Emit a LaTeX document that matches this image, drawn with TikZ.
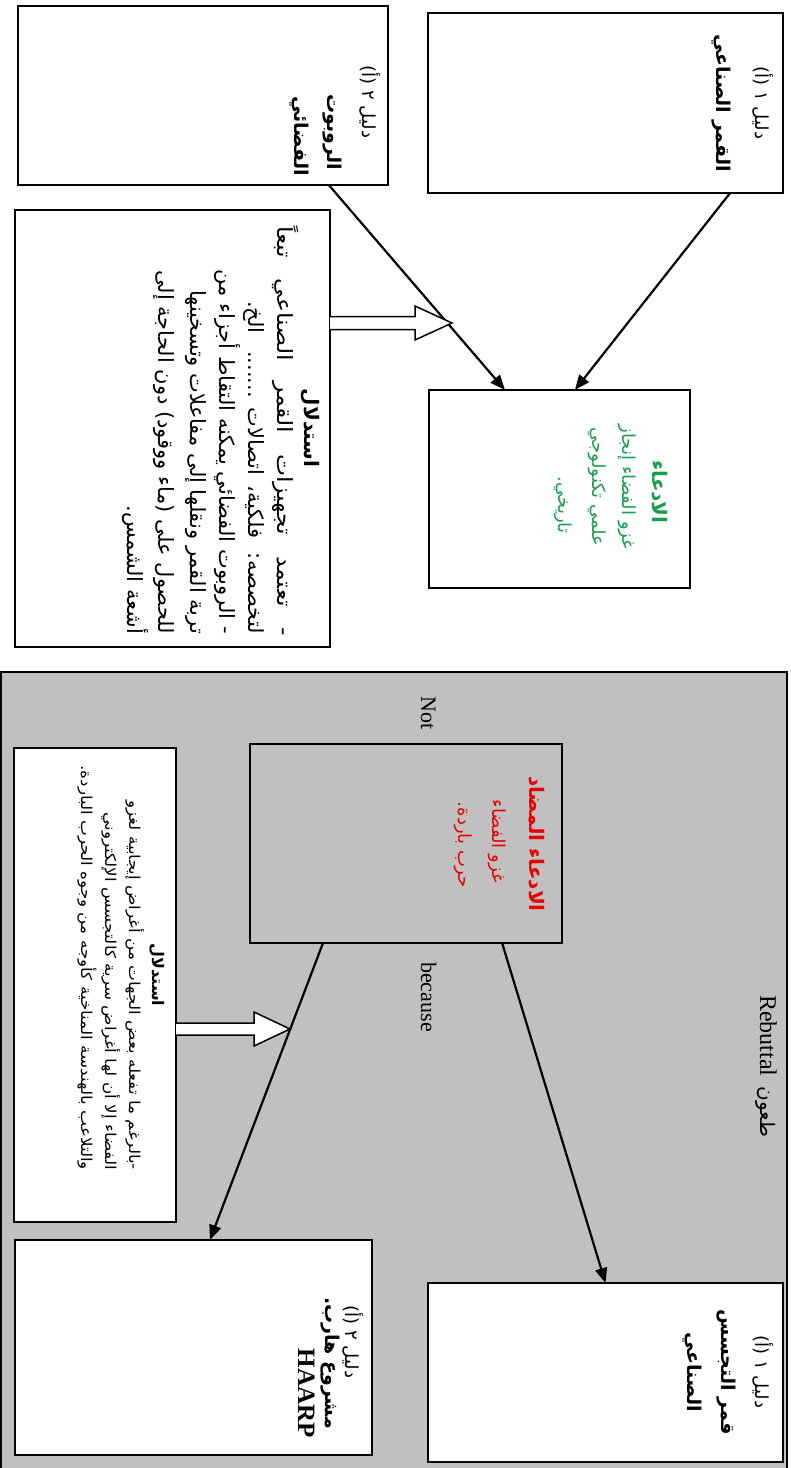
\documentclass[tikz,border=0pt]{standalone}
\usepackage{fontspec}
\setmainfont{Liberation Serif}
\newfontfamily\arabicfont[Script=Arabic]{DejaVu Sans}
\newfontfamily\arabicwideh[Script=Arabic,FakeStretch=1.12]{DejaVu Sans}
\newfontfamily\arabicwidec[Script=Arabic,FakeStretch=1.12]{DejaVu Sans}
\TeXXeTstate=1
\usetikzlibrary{arrows.meta,calc}
\definecolor{bggray}{RGB}{192,192,192}
\definecolor{cgreen}{RGB}{20,160,75}
\definecolor{cred}{RGB}{235,0,0}
\newcommand\ar[1]{{\arabicfont\beginR #1\endR}}
\newcommand\arh[1]{{\arabicwideh\beginR #1\endR}}
\newcommand\fs[1]{\fontsize{#1}{#1}\selectfont}
\begin{document}
\begin{tikzpicture}[x=1pt,y=-1pt,
  box/.style={draw=black, line width=2pt, inner sep=0pt, outer sep=0pt, fill=white},
  clearbox/.style={draw=black, line width=2pt, inner sep=0pt, outer sep=0pt},
  arr/.style={line width=2.2pt, -{Triangle[length=15pt,width=12pt]}},
  hollow/.style={draw=black, line width=1.5pt, fill=white, line join=miter},
  lbl/.style={rotate=-90, inner sep=0pt, outer sep=0pt, anchor=base},
  lblr/.style={rotate=-90, inner sep=0pt, outer sep=0pt, anchor=base east}
]
\useasboundingbox (0,0) rectangle (791,1468);
% rebuttal panel
\node[draw=black, fill=bggray, line width=2pt, inner sep=0pt, outer sep=0pt,
  minimum width=786pt, minimum height=800pt] (R) at (394,1072) {};
% boxes
\node[box, minimum width=355pt, minimum height=180pt] (A) at (605.5,103) {};
\node[box, minimum width=370pt, minimum height=179pt] (B) at (203,95.5) {};
\node[box, minimum width=315pt, minimum height=437pt] (C) at (172.5,428.5) {};
\node[box, minimum width=261pt, minimum height=198pt] (D) at (559.5,489) {};
\node[clearbox, minimum width=312pt, minimum height=199pt] (E) at (406,843.5) {};
\node[box, minimum width=355pt, minimum height=179pt] (F) at (605.5,1372.5) {};
\node[box, minimum width=357pt, minimum height=215pt] (G) at (193.5,1347.5) {};
\node[box, minimum width=162pt, minimum height=474pt] (H) at (95,985) {};
% connectors
\draw[arr] ($(A.south west)!0.851!(A.south east)$) -- ($(D.north west)!0.559!(D.north east)$);
\draw[arr] ($(B.south west)!0.84!(B.south east)$) -- ($(D.north west)!0.291!(D.north east)$);
\draw[arr] ($(E.south west)!0.808!(E.south east)$) -- (F.north);
\draw[arr] ($(E.south west)!0.234!(E.south east)$) -- ($(G.north west)!0.546!(G.north east)$);
% hollow arrows
\coordinate (cp) at ($(C.north east)!(0,323)!(C.south east)$);
\draw[hollow] (cp) ++(0,-6.5) -- ++(85,0) -- ++(0,-10.5) -- ++(37,17) -- ++(-37,17) -- ++(0,-10.5) -- ++(-85,0);
\coordinate (hp) at ($(H.north east)!(0,1029)!(H.south east)$);
\draw[hollow] (hp) ++(0,-6) -- ++(78,0) -- ++(0,-11) -- ++(36,17) -- ++(-36,17) -- ++(0,-11) -- ++(-78,0);
% labels on panel
\node[lbl, font=\fs{22}] (notl) at (421,713) {Not};
\node[lbl, font=\fs{22}] (becl) at (421,997) {because};
\node[lbl, font=\fs{24}] (rebl) at (760,1066) {Rebuttal\hspace{10pt}\ar{\fs{20}طعون}};
% box A text
\node[lbl, font=\arabicfont\fs{18}] (a1) at (755,103) {\ar{دليل ١ (أ)}};
\node[lbl, font=\arabicfont\bfseries\fs{19}] (a2) at (716,103) {\ar{القمر الصناعي}};
% box B text
\node[lbl, font=\arabicfont\fs{18}] (b1) at (362,102) {\ar{دليل ٢ (أ)}};
\node[lbl, font=\arabicfont\bfseries\fs{19}] (b2) at (327,132) {\ar{الروبوت}};
\node[lbl, font=\arabicfont\bfseries\fs{19}] (b3) at (294,136) {\ar{الفضائي}};
% box C text
\node[lbl, font=\arabicfont\bfseries\fs{20}] (c0) at (304,428) {\ar{استدلال}};
\node[lblr, font=\arabicwidec\fs{21}] (c1) at (277,636) {\makebox[410pt][s]{\beginR - تعتمد تجهيزات القمر الصناعي تبعاً\endR}};
\node[lblr, font=\arabicfont\fs{21}] (c2) at (248,634) {\makebox[333pt][s]{\beginR لتخصصه: فلكية، اتصالات ....... الخ.\endR}};
\node[lblr, font=\fs{21}] (c3) at (219,634) {\ar{- الروبوت الفضائي يمكنه التقاط أجزاء من}};
\node[lblr, font=\fs{21}] (c4) at (190,634) {\ar{تربة القمر ونقلها إلى مفاعلات وتسخينها}};
\node[lblr, font=\fs{21}] (c5) at (158,634) {\ar{للحصول على (ماء ووقود) دون الحاجة إلى}};
\node[lblr, font=\fs{21}] (c6) at (127,634) {\ar{أشعة الشمس.}};
% box D text
\node[lbl, text=cgreen, font=\arabicfont\bfseries\fs{20}] (d1) at (652,492) {\ar{الادعاء}};
\node[lbl, text=cgreen, font=\arabicfont\fs{18}] (d2) at (622,487) {\ar{غزو الفضاء إنجاز}};
\node[lbl, text=cgreen, font=\arabicfont\fs{18}] (d3) at (592,487) {\ar{علمي تكنولوجي}};
\node[lbl, text=cgreen, font=\arabicfont\fs{18}] (d4) at (558,505) {\ar{تاريخي.}};
% box E text
\node[lbl, text=cred, font=\arabicfont\bfseries\fs{20}] (e1) at (529,844) {\ar{الادعاء المضاد}};
\node[lbl, text=cred, font=\arabicfont\fs{18}] (e2) at (492,841) {\ar{غزو الفضاء}};
\node[lbl, text=cred, font=\arabicfont\fs{18}] (e3) at (458,845) {\ar{حرب باردة.}};
% box F text
\node[lbl, font=\arabicfont\fs{18}] (f1) at (755,1372) {\ar{دليل ١ (أ)}};
\node[lbl, font=\arabicfont\bfseries\fs{19}] (f2) at (721,1372) {\ar{قمر التجسس}};
\node[lbl, font=\arabicfont\bfseries\fs{19}] (f3) at (687,1372) {\ar{الصناعي}};
% box G text
\node[lbl, font=\arabicfont\fs{18}] (g1) at (345,1342) {\ar{دليل ٢ (أ)}};
\node[lbl, font=\arabicfont\bfseries\fs{19}] (g2) at (325,1363) {\ar{مشروع هارب.}};
\node[lbl, font=\bfseries\fs{25}] (g3) at (298,1393) {HAARP};
% box H text
\node[lbl, font=\arabicfont\bfseries\fs{16}] (h0) at (152,975) {\ar{استدلال}};
\node[lblr, font=\fs{15}] (h1) at (129,1170) {\arh{-بالرغم ما تفعله بعض الجهات من أغراض إيجابية لغزو}};
\node[lblr, font=\fs{15}] (h2) at (105,1170) {\arh{الفضاء إلا أن لها أغراض سرية كالتجسس الإلكتروني}};
\node[lblr, font=\fs{15}] (h3) at (81,1170) {\arh{والتلاعب بالهندسة المناخية كأوجه من وجوه الحرب الباردة.}};
\end{tikzpicture}
\end{document}
